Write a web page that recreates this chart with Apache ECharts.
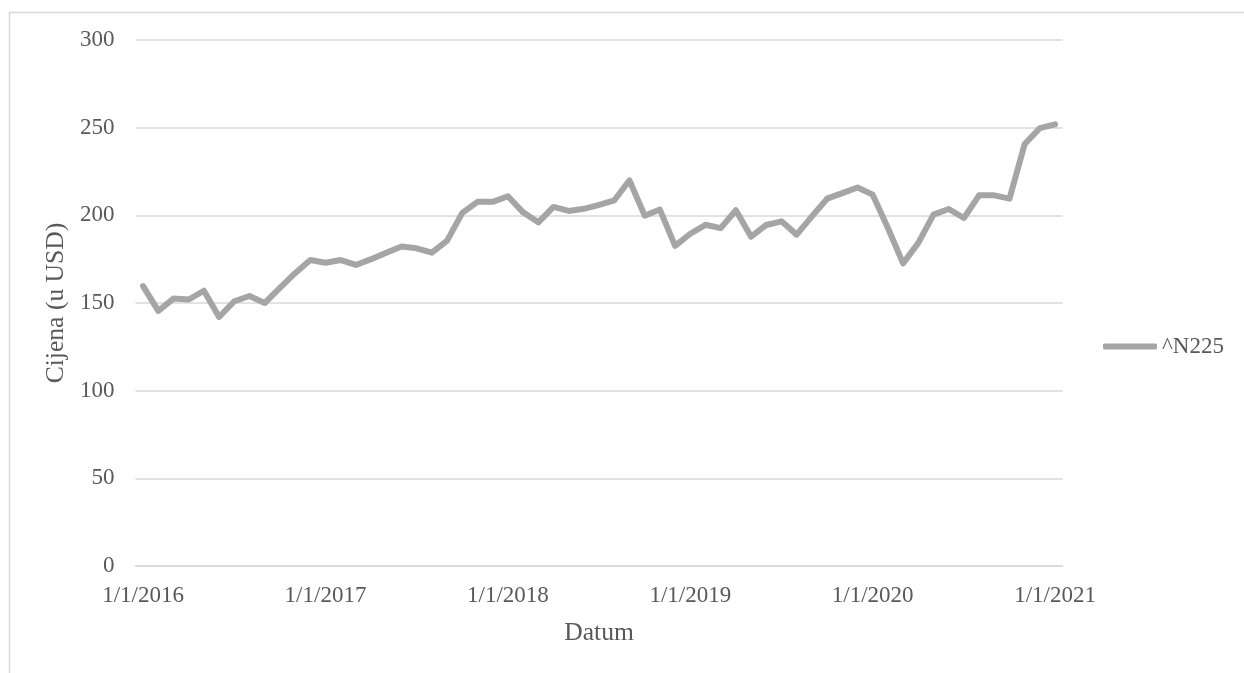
<!DOCTYPE html>
<html>
<head>
<meta charset="utf-8">
<script src="https://cdn.jsdelivr.net/npm/echarts@6/dist/echarts.min.js"></script>
<style>
html,body{margin:0;padding:0;background:#fff;}
#c{width:1244px;height:673px;}
</style>
</head>
<body>
<div id="c"></div>
<script>
const years = [2016, 2017, 2018, 2019, 2020];
const categories = [];
years.forEach(y => { for (let m = 1; m <= 12; m++) categories.push(m + '/1/' + y); });
categories.push('1/1/2021');

const seriesName = '^N225';
const prices = [
  159.6, 145.5, 152.5, 152, 157, 142, 151, 154, 150, 158.6, 167, 174.5,
  173, 174.5, 171.7, 175, 178.7, 182.2, 181.2, 178.7, 185.6, 201.4, 207.7, 207.7,
  210.9, 201.7, 196, 204.8, 202.5, 203.7, 206, 208.6, 219.9, 199.8, 203.3, 182.6,
  189.5, 194.6, 192.7, 202.9, 187.8, 194.5, 196.6, 189, 199.4, 209.5, 212.7, 215.9,
  211.8, 192.8, 172.6, 184.3, 200.4, 203.6, 198.5, 211.4, 211.4, 209.5, 240.7, 249.7,
  251.9
];
const yTicks = { min: 0, max: 300, interval: 50 };
const xTitle = 'Datum';
const yTitle = 'Cijena (u USD)';

const FONT = '"Liberation Serif", "Times New Roman", serif';
const TXT = '#595959';
const GRID = '#d9d9d9';
const LINE = '#a5a5a5';

const chart = echarts.init(document.getElementById('c'), null, { renderer: 'canvas' });
chart.setOption({
  animation: false,
  backgroundColor: '#fff',
  textStyle: { fontFamily: FONT },
  graphic: [{
    type: 'rect', left: 7, top: 10, silent: true,
    shape: { width: 1300, height: 720 },
    style: { fill: 'none', stroke: GRID, lineWidth: 1.5 }
  }],
  grid: { left: 135.5, right: 181.3, top: 40, bottom: 107, containLabel: false },
  legend: {
    orient: 'vertical', left: 1098, top: 330,
    itemWidth: 54, itemHeight: 6, itemGap: 5,
    textStyle: { fontFamily: FONT, fontSize: 23, color: TXT, padding: [0, 0, 0, 0] },
    data: [{ name: seriesName, icon: 'roundRect' }]
  },
  xAxis: {
    type: 'category', data: categories, boundaryGap: true,
    name: xTitle, nameLocation: 'middle', nameGap: 54,
    nameTextStyle: { fontFamily: FONT, fontSize: 25.6, color: TXT },
    axisLine: { show: true, lineStyle: { color: GRID, width: 1.5 } },
    axisTick: { show: false },
    axisLabel: { interval: 11, margin: 18, fontFamily: FONT, fontSize: 23, color: TXT },
    splitLine: { show: false }
  },
  yAxis: {
    type: 'value', min: yTicks.min, max: yTicks.max, interval: yTicks.interval,
    name: yTitle, nameLocation: 'middle', nameGap: 64,
    nameTextStyle: { fontFamily: FONT, fontSize: 25.6, color: TXT },
    axisLine: { show: false }, axisTick: { show: false },
    axisLabel: { margin: 21, fontFamily: FONT, fontSize: 23, color: TXT },
    splitLine: { lineStyle: { color: GRID, width: 1.5 } }
  },
  series: [{
    name: seriesName, type: 'line', data: prices,
    showSymbol: false, symbol: 'none',
    lineStyle: { color: LINE, width: 6, cap: 'round', join: 'round' },
    itemStyle: { color: LINE }
  }]
});
</script>
</body>
</html>
